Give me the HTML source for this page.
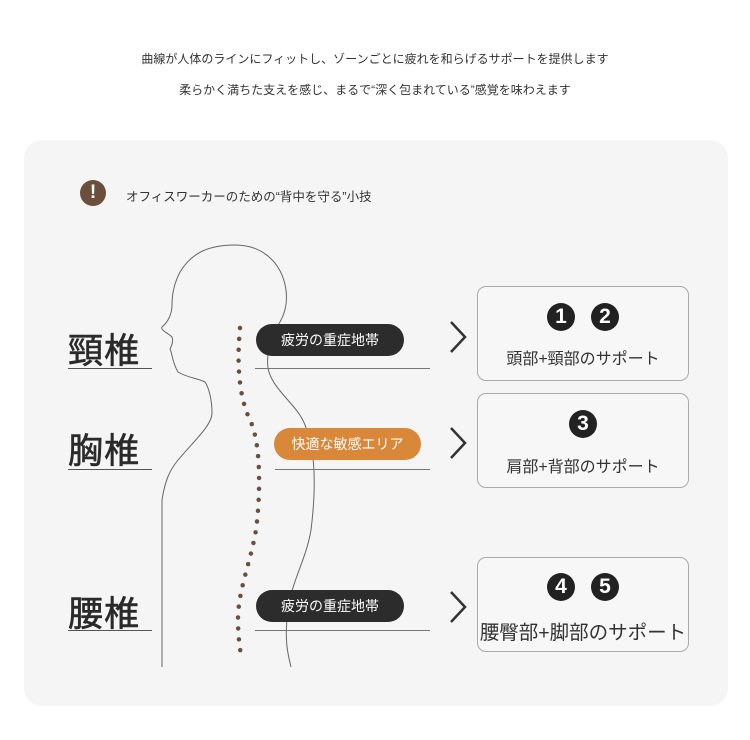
<!DOCTYPE html>
<html><head><meta charset="utf-8"><style>
body{margin:0;width:750px;height:740px;background:#fff;font-family:"Liberation Sans","Noto Sans CJK JP",sans-serif;position:relative;overflow:hidden;color:#333}
.a{position:absolute}
.hd{left:0;width:750px;text-align:center;font-size:12px;color:#333}
.card{left:24px;top:140px;width:704px;height:566px;background:#f5f5f5;border-radius:18px}
.lab{font-size:35px;color:#2a2a2a;left:68px;letter-spacing:1px;-webkit-text-stroke:0.6px #2a2a2a}
.ul{height:1px;background:#555}
.pill{height:32px;border-radius:16px;color:#fff;font-size:14px;line-height:32px;text-align:center}
.box{left:477px;width:210px;border:1px solid #aaa;border-radius:9px;background:#f7f7f7}
.bt{position:absolute;left:0;width:100%;text-align:center;font-size:16px;color:#333}
.n{display:inline-block;width:28px;height:28px;border-radius:50%;background:#222;color:#fff;font-weight:bold;font-size:21px;line-height:28px;text-align:center;margin:0 8px}
</style></head><body>
<div class="a hd" style="top:50px">曲線が人体のラインにフィットし、ゾーンごとに疲れを和らげるサポートを提供します</div>
<div class="a hd" style="top:81px">柔らかく満ちた支えを感じ、まるで“深く包まれている”感覚を味わえます</div>
<div class="a card"></div>
<div class="a" style="left:80px;top:180px;width:26px;height:26px;border-radius:50%;background:#6b4f3c;color:#fff;text-align:center;font-weight:bold;font-size:19px;line-height:26px">!</div>
<div class="a" style="left:126px;top:186px;font-size:12.5px;color:#333">オフィスワーカーのための“背中を守る”小技</div>
<svg class="a" style="left:0;top:0" width="750" height="740">
<path d="M162,667 L162,500 C165,480 170,470 178,460 C195,440 212,425 212,413 C212,398 208,386 205,382 C197,378 188,378 178,372 C172,362 172,352 170,349 C173,343 173,340 172,337 C168,333 160,330 162,327 C168,322 172,314 172,305 C172,290 176,280 180,272 C192,252 210,245 235,245 C262,245 282,262 286,290 C288,305 284,315 280,322 C272,332 266,352 268,368 C272,390 298,405 305,425 C316,450 316,490 311,530 C306,560 292,580 288,610 C284,640 288,655 291,667" fill="none" stroke="#666" stroke-width="1"/>
<path d="M240,328 C237,360 238,395 250,420 C262,445 260,500 256,530 C250,565 238,590 238,620 C238,640 241,655 242,660" fill="none" stroke="#6b4f3c" stroke-width="4.5" stroke-linecap="round" stroke-dasharray="0 10.9"/>
<g fill="none" stroke="#333" stroke-width="2.5"><path d="M451,322 L465,337 L451,352"/><path d="M451,428 L465,443 L451,458"/><path d="M451,592 L465,607 L451,622"/></g>
</svg>
<div class="a lab" style="top:323px">頸椎</div><div class="a ul" style="left:68px;top:368px;width:84px"></div>
<div class="a lab" style="top:423px">胸椎</div><div class="a ul" style="left:68px;top:469px;width:84px"></div>
<div class="a lab" style="top:586px">腰椎</div><div class="a ul" style="left:68px;top:630px;width:84px"></div>
<div class="a pill" style="left:256px;top:324px;width:148px;background:#2c2c2c">疲労の重症地帯</div>
<div class="a ul" style="left:255px;top:368px;width:175px;background:#777"></div>
<div class="a pill" style="left:274px;top:428px;width:147px;background:#d9883a">快適な敏感エリア</div>
<div class="a ul" style="left:275px;top:469px;width:155px;background:#777"></div>
<div class="a pill" style="left:256px;top:590px;width:148px;background:#2c2c2c">疲労の重症地帯</div>
<div class="a ul" style="left:255px;top:630px;width:175px;background:#777"></div>
<div class="a box" style="top:286px;height:93px"><div class="bt" style="top:16px"><span class="n">1</span><span class="n">2</span></div><div class="bt" style="top:58px">頭部+頸部のサポート</div></div>
<div class="a box" style="top:393px;height:93px"><div class="bt" style="top:16px"><span class="n">3</span></div><div class="bt" style="top:59px">肩部+背部のサポート</div></div>
<div class="a box" style="top:557px;height:93px"><div class="bt" style="top:15px"><span class="n">4</span><span class="n">5</span></div><div class="bt" style="top:58px;font-size:19.5px;white-space:nowrap">腰臀部+脚部のサポート</div></div>
</body></html>
